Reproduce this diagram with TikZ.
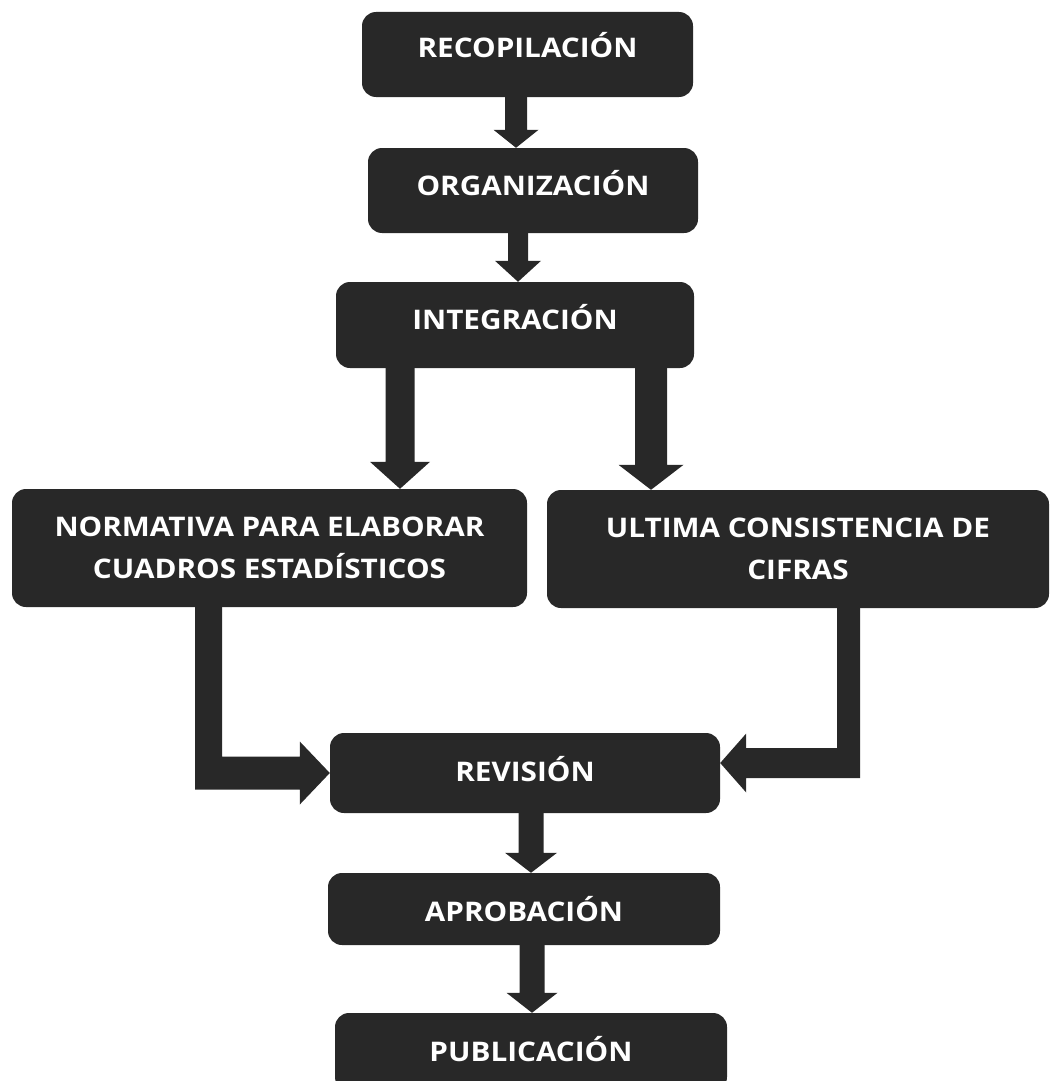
\documentclass[tikz,border=0pt]{standalone}
\usepackage{fontspec}
\setmainfont{Open Sans}
\newfontfamily\boxfont{Open Sans}[FakeStretch=1.1]
\usetikzlibrary{calc}
\definecolor{boxc}{HTML}{282828}
\newcommand\dnarrow[6]{%
  \fill[arr] let \p1=(#1.south), \p2=(#2.north) in
    ({#3pt-#4pt},\y1+1pt) -- ({#3pt+#4pt},\y1+1pt) -- ({#3pt+#4pt},\y2+#6pt)
    -- ({#3pt+#5pt},\y2+#6pt) -- (#3pt,\y2) -- ({#3pt-#5pt},\y2+#6pt)
    -- ({#3pt-#4pt},\y2+#6pt) -- cycle;}
\begin{document}
\begin{tikzpicture}[x=1pt,y=-1pt,
  box/.style={fill=boxc, rounded corners=14pt, text=white,
    font=\boxfont\fontsize{27}{42}\selectfont\bfseries, align=center, inner sep=0pt},
  arr/.style={fill=boxc}]
\useasboundingbox (0,0) rectangle (1050,1081);
\clip (0,0) rectangle (1050,1081);
\node[box, minimum width=331pt, minimum height=85pt, text height=19.3pt, text depth=13pt] (rec) at (527.5,54.5) {RECOPILACIÓN};
\node[box, minimum width=330pt, minimum height=85pt, text height=19.3pt, text depth=9pt] (org) at (533,190.5) {ORGANIZACIÓN};
\node[box, minimum width=358pt, minimum height=86pt, text height=19.3pt, text depth=10pt] (int) at (515,325) {INTEGRACIÓN};
\node[box, minimum width=515pt, minimum height=118pt] (norm) at (269.5,548) {NORMATIVA PARA ELABORAR\\CUADROS ESTADÍSTICOS};
\node[box, minimum width=502pt, minimum height=118pt] (ult) at (798,549) {ULTIMA CONSISTENCIA DE\\CIFRAS};
\node[box, minimum width=390pt, minimum height=80pt, text height=19.3pt, text depth=2pt] (rev) at (525,773) {REVISIÓN};
\node[box, minimum width=392pt, minimum height=72pt, text height=25.3pt, text depth=0pt] (apr) at (524,909) {APROBACIÓN};
\node[box, minimum width=392pt, minimum height=78pt, text height=19.3pt, text depth=0pt] (pub) at (531,1052) {PUBLICACIÓN};
\dnarrow{rec}{org}{516}{11}{22.5}{18}
\dnarrow{org}{int}{518}{10}{23}{21}
\dnarrow{int}{norm}{400}{14.5}{30}{27}
\dnarrow{int}{ult}{651}{16}{32.5}{25}
\dnarrow{rev}{apr}{531}{12.5}{26}{20}
\dnarrow{apr}{pub}{532}{12.5}{25.5}{20}
\fill[arr] let \p1=(norm.south), \p2=(rev.west) in
  (195pt,\y1+1pt) -- (222pt,\y1+1pt) -- (222pt,\y2+16.5pt) -- (\x2-30pt,\y2+16.5pt)
  -- (\x2-30pt,\y2+31.5pt) -- (\p2) -- (\x2-30pt,\y2-31.5pt) -- (\x2-30pt,\y2-16.5pt)
  -- (195pt,\y2-16.5pt) -- cycle;
\fill[arr] let \p1=(ult.south), \p2=($(rev.east)+(0,-10)$) in
  (837pt,\y1+1pt) -- (860pt,\y1+1pt) -- (860pt,\y2-15pt) -- (\x2+26pt,\y2-15pt)
  -- (\x2+26pt,\y2-29.5pt) -- (\p2) -- (\x2+26pt,\y2+29.5pt) -- (\x2+26pt,\y2+15pt)
  -- (837pt,\y2+15pt) -- cycle;
\end{tikzpicture}
\end{document}
